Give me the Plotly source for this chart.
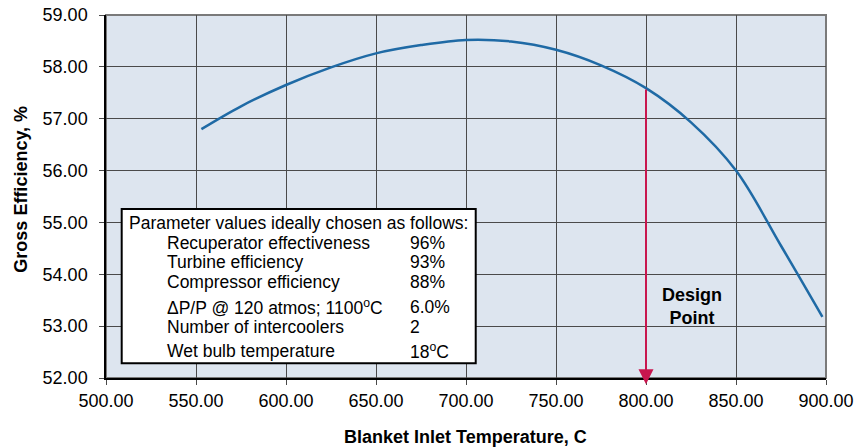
import plotly.graph_objects as go

# Gross efficiency vs blanket inlet temperature
temperature_c = [553, 575, 600, 625, 650, 675, 700, 725, 750, 775, 800, 825, 850, 875, 898]
gross_efficiency = [56.80, 57.24, 57.65, 57.99, 58.26, 58.42, 58.52, 58.49, 58.33, 58.03,
                    57.59, 56.93, 56.00, 54.55, 53.18]

design_temp = 800
design_eff = gross_efficiency[temperature_c.index(design_temp)]

x_ticks = [500, 550, 600, 650, 700, 750, 800, 850, 900]
y_ticks = [52, 53, 54, 55, 56, 57, 58, 59]

param_header = "Parameter values ideally chosen as follows:"
param_names = [
    "Recuperator effectiveness",
    "Turbine efficiency",
    "Compressor efficiency",
    "ΔP/P @ 120 atmos; 1100<sup>o</sup>C",
    "Number of intercoolers",
    "Wet bulb temperature",
]
param_values = ["96%", "93%", "88%", "6.0%", "2", "18<sup>o</sup>C"]

FONT = "Liberation Sans, Arial, Helvetica, sans-serif"

fig = go.Figure()
fig.add_trace(go.Scatter(
    x=temperature_c, y=gross_efficiency, mode="lines",
    line=dict(color="#1f6aa5", width=2.5, shape="spline", smoothing=1.0),
    hoverinfo="skip", showlegend=False,
))

# plot-area frame (top/right sides are grey)
fig.add_shape(type="rect", xref="paper", yref="paper", x0=0, y0=0, x1=1, y1=1,
              line=dict(color="#7a7a7a", width=2), layer="below")

# parameter box
box_x0, box_x1, box_y0, box_y1 = 0.0218, 0.5135, 0.0405, 0.4656
fig.add_shape(type="rect", xref="paper", yref="paper",
              x0=box_x0, x1=box_x1, y0=box_y0, y1=box_y1,
              line=dict(color="black", width=2), fillcolor="white", layer="above")

annotations = []
annotations.append(dict(xref="paper", yref="paper", x=0.0287, y=0.427, text=param_header,
                        showarrow=False, xanchor="left", yanchor="middle",
                        font=dict(family=FONT, size=17.5, color="black")))
row_y = [0.3727, 0.3187, 0.2653, 0.1964, 0.1413, 0.0752]
for name, val, yy in zip(param_names, param_values, row_y):
    annotations.append(dict(xref="paper", yref="paper", x=0.0819, y=yy, text=name,
                            showarrow=False, xanchor="left", yanchor="middle",
                            font=dict(family=FONT, size=17.5, color="black")))
    annotations.append(dict(xref="paper", yref="paper", x=0.419, y=yy, text=val,
                            showarrow=False, xanchor="left", yanchor="middle",
                            font=dict(family=FONT, size=17.5, color="black")))

# design point arrow
annotations.append(dict(x=design_temp, y=51.88, ax=design_temp, ay=design_eff,
                        xref="x", yref="y", axref="x", ayref="y", text="",
                        showarrow=True, arrowhead=2, arrowsize=1.5, arrowwidth=2,
                        arrowcolor="#c8164e"))
annotations.append(dict(x=825.4, y=53.38, xref="x", yref="y",
                        text="<b>Design</b><br><b>Point</b>", showarrow=False,
                        xanchor="center", yanchor="middle", align="center",
                        font=dict(family=FONT, size=18, color="black")))

# axis titles
annotations.append(dict(xref="paper", yref="paper", x=0.499, y=-0.1617,
                        text="<b>Blanket Inlet Temperature, C</b>", showarrow=False,
                        xanchor="center", yanchor="middle",
                        font=dict(family=FONT, size=18, color="black")))
annotations.append(dict(xref="paper", yref="paper", x=-0.118, y=0.519,
                        text="<b>Gross Efficiency, %</b>", showarrow=False, textangle=-90,
                        xanchor="center", yanchor="middle",
                        font=dict(family=FONT, size=18, color="black")))

fig.update_layout(
    width=857, height=447,
    margin=dict(l=106, r=31, t=15, b=69),
    paper_bgcolor="white",
    plot_bgcolor="#dde5ef",
    font=dict(family=FONT, size=18, color="black"),
    annotations=annotations,
    showlegend=False,
)
fig.update_xaxes(
    range=[500, 900], tickvals=x_ticks, tickformat=".2f",
    showgrid=True, gridcolor="#4a4a4a", gridwidth=1,
    showline=True, linecolor="black", linewidth=2,
    ticks="outside", ticklen=5, tickcolor="#4a4a4a",
    zeroline=False, fixedrange=True, automargin=False,
)
fig.update_yaxes(
    range=[52, 59], tickvals=y_ticks, tickformat=".2f",
    showgrid=True, gridcolor="#4a4a4a", gridwidth=1,
    showline=True, linecolor="black", linewidth=1.5,
    ticks="outside", ticklen=5, tickcolor="#4a4a4a",
    ticklabelstandoff=8,
    zeroline=False, fixedrange=True, automargin=False,
)

fig.write_html("out.html")
